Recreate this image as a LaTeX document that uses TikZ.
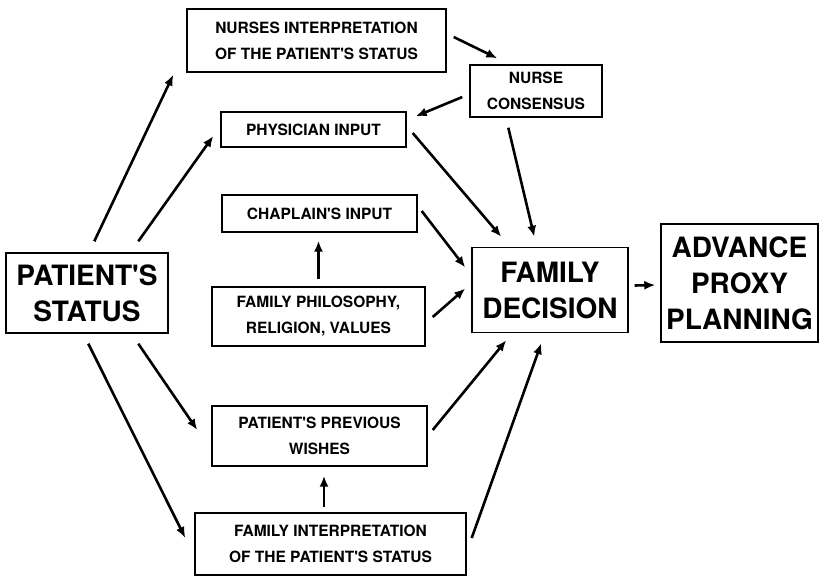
\documentclass[tikz,border=0pt]{standalone}
\usepackage{fontspec}
\newfontfamily\heros{TeX Gyre Heros}
\usetikzlibrary{arrows.meta}
\begin{document}
\begin{tikzpicture}[x=1pt,y=-1pt,
  box/.style={draw, line width=1.4pt, inner sep=0pt, align=center,
    font=\heros\bfseries\fontsize{15.5}{26}\selectfont},
  bigbox/.style={box, font=\heros\bfseries\fontsize{28}{36}\selectfont},
  arr/.style={line width=2.6pt, -{Latex[length=11pt,width=9pt]}}]
\useasboundingbox (0,0) rectangle (828,576);

\node[box, minimum width=259pt, minimum height=63pt] (nurses) at (316.5,40.5) {NURSES INTERPRETATION\\OF THE PATIENT'S STATUS};
\node[box, minimum width=132pt, minimum height=52pt] (cons) at (536,91) {NURSE\\CONSENSUS};
\node[box, minimum width=185pt, minimum height=35pt] (phys) at (313.5,129.5) {PHYSICIAN INPUT};
\node[box, minimum width=195pt, minimum height=37pt] (chap) at (319.5,213.5) {CHAPLAIN'S INPUT};
\node[box, minimum width=213pt, minimum height=59pt] (phil) at (318.5,316.5) {FAMILY PHILOSOPHY,\\RELIGION, VALUES};
\node[bigbox, minimum width=162pt, minimum height=80pt] (ps) at (87,293) {PATIENT'S\\STATUS};
\node[bigbox, minimum width=156pt, minimum height=85pt] (fd) at (550,290) {FAMILY\\DECISION};
\node[bigbox, minimum width=157pt, minimum height=118pt] (adv) at (739.5,283) {ADVANCE\\PROXY\\PLANNING};
\node[box, minimum width=215pt, minimum height=60pt] (prev) at (319.5,436) {PATIENT'S PREVIOUS\\WISHES};
\node[box, minimum width=271pt, minimum height=62pt] (fint) at (330.5,544) {FAMILY INTERPRETATION\\OF THE PATIENT'S STATUS};

\draw[arr] ([shift={(89,-11)}]ps.north west) -- ([shift={(-13,2)}]nurses.south west);
\draw[arr] ([shift={(133,-11)}]ps.north west) -- ([shift={(-7,6.5)}]phys.west);
\draw[arr] ([shift={(7,-3.5)}]nurses.east) -- ([shift={(28,-6)}]cons.north west);
\draw[arr] ([shift={(-7,6)}]cons.west) -- ([shift={(9,5)}]phys.north east);
\draw[arr] ([shift={(6,3.5)}]phys.east) -- ([shift={(30,-10)}]fd.north west);
\draw[arr] ([shift={(39,10)}]cons.south west) -- ([shift={(63,-10)}]fd.north west);
\draw[arr] ([shift={(4,-2.5)}]chap.east) -- ([shift={(-6,-22.5)}]fd.west);
\draw[arr] ([shift={(7,0.5)}]phil.east) -- ([shift={(-6,-1.5)}]fd.west);
\draw[arr] ([shift={(0,-7)}]phil.north) -- ([shift={(-1,8)}]chap.south);
\draw[arr] ([shift={(133,10)}]ps.south west) -- ([shift={(-14,-6)}]prev.west);
\draw[arr] ([shift={(83,10)}]ps.south west) -- ([shift={(-9,-6)}]fint.west);
\draw[arr] ([shift={(-6.5,-5)}]fint.north) -- ([shift={(4.5,9)}]prev.south);
\draw[arr] ([shift={(5,-6)}]prev.east) -- ([shift={(35,7)}]fd.south west);
\draw[arr] ([shift={(5,-6)}]fint.east) -- ([shift={(70,10)}]fd.south west);
\draw[arr] ([shift={(6,-4.5)}]fd.east) -- ([shift={(-5,2)}]adv.west);
\end{tikzpicture}
\end{document}
